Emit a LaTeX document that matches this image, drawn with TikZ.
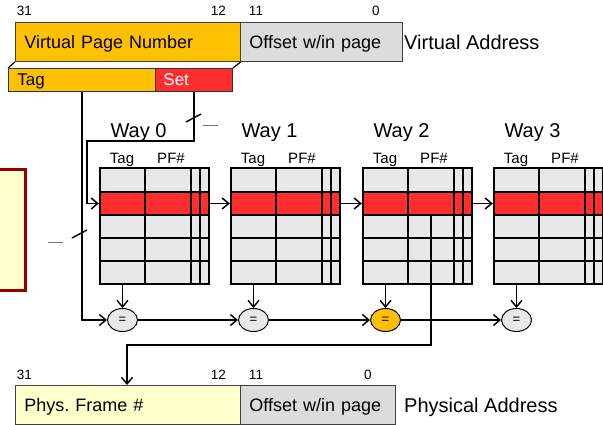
\documentclass[tikz,border=0pt]{standalone}
\usepackage{fontspec}
\setmainfont{Liberation Sans}
\usetikzlibrary{arrows.meta,shapes.geometric}
\definecolor{gold}{HTML}{FFC000}
\definecolor{setred}{HTML}{FF2D2D}
\definecolor{offgray}{HTML}{DCDCDC}
\definecolor{cellgray}{HTML}{E8E8E8}
\definecolor{paleyel}{HTML}{FFFFCC}
\definecolor{darkred}{HTML}{990000}
\frenchspacing
\begin{document}
\begin{tikzpicture}[x=1pt,y=-1pt,
  addr/.style={draw=black!75, line width=0.9pt, anchor=north west, minimum height=39pt,
    inner ysep=0pt, inner xsep=9pt, align=left, font=\fontsize{18}{18}\selectfont,
    text height=15pt, text depth=2pt},
  fieldbox/.style={draw=black!80, line width=0.9pt, anchor=north west, minimum height=23pt,
    inner ysep=0pt, align=left, font=\fontsize{17}{17}\selectfont,
    text height=14pt, text depth=3pt},
  lbl/.style={inner sep=0pt, anchor=base},
  bignum/.style={lbl, font=\fontsize{13.5}{13.5}\selectfont},
  caption/.style={inner sep=0pt, anchor=base west, font=\fontsize{20}{20}\selectfont},
  waybox/.style={draw=black, line width=2.4pt, fill=cellgray, minimum width=109pt,
    minimum height=116pt, inner sep=0pt},
  redrow/.style={draw=black, line width=2.4pt, fill=setred, minimum width=109pt,
    minimum height=23pt, inner sep=0pt},
  gridline/.style={draw=black, line width=2.4pt},
  conn/.style={draw=black, line width=1.5pt},
  tip/.style={-{Straight Barb[length=6.5pt,width=11pt,line width=1.5pt]}},
  cmp/.style={ellipse, draw=black, line width=1pt, minimum width=30pt, minimum height=23pt,
    inner sep=0pt, font=\fontsize{13}{13}\selectfont},
  tick/.style={draw=black, line width=1.4pt},
  busdash/.style={draw=black!55, line width=1pt}
]
\useasboundingbox (0,0) rectangle (603,424);

% side box (partly off the picture)
\node[draw=darkred, line width=3pt, fill=paleyel, minimum width=45.5pt, minimum height=121pt,
  inner sep=0pt] (side) at (2.75,230) {};

% virtual address
\node[addr, fill=gold, text width=207pt] (vpn) at (15,22) {Virtual Page Number};
\node[addr, fill=offgray, text width=144pt] (voff) at (240,22) {Offset w/in page};
\node[caption] (vcap) at (404,49) {Virtual Address};
\node[bignum] (v31) at (24.5,15.6) {31};
\node[bignum] (v12) at (218.5,15.6) {12};
\node[bignum] (v11) at (256,15.6) {11};
\node[bignum] (v0) at (376,15.6) {0};

% tag / set fields
\node[fieldbox, fill=gold, inner xsep=9pt, text width=129pt] (tag) at (8,68) {Tag};
\node[fieldbox, fill=setred, inner xsep=8pt, text width=61pt, text=white] (set) at (155,68) {Set};
\draw[line width=1.2pt] (vpn.south west) -- (tag.north west);
\draw[line width=1.2pt] (vpn.south east) -- (set.north east);

% ways
\foreach \i/\L/\cc in {0/100/cellgray, 1/231/cellgray, 2/363/gold, 3/494/cellgray} {
  \node[waybox] (w\i) at ({\L+54.5},226) {};
  \node[redrow] (r\i) at ({\L+54.5},203.5) {};
  \draw[gridline] (\L,238) -- ({\L+109},238);
  \draw[gridline] (\L,261) -- ({\L+109},261);
  \draw[gridline] ({\L+45},168) -- ({\L+45},284);
  \draw[gridline] ({\L+91},168) -- ({\L+91},284);
  \draw[gridline] ({\L+100},168) -- ({\L+100},284);
  \draw[gridline] (\L,168) rectangle ({\L+109},284);
  \node[lbl, font=\fontsize{20}{20}\selectfont] (wl\i) at ({\L+38.5},137) {Way \i};
  \node[lbl, font=\fontsize{15}{15}\selectfont] (th\i) at ({\L+22},163) {Tag};
  \node[lbl, font=\fontsize{15}{15}\selectfont] (ph\i) at ({\L+71},163) {PF\#};
  \node[cmp, fill=\cc] (c\i) at ({\L+22.5},320) {=};
  \draw[conn, tip] (w\i.south -| c\i) -- (c\i.north);
}

% way-to-way arrows
\draw[conn, tip] (r0.east) -- (r1.west);
\draw[conn, tip] (r1.east) -- (r2.west);
\draw[conn, tip] (r2.east) -- (r3.west);

% comparator chain
\draw[conn, tip] (tag.south) |- (c0.west);
\draw[conn, tip] (c0.east) -- (c1.west);
\draw[conn, tip] (c1.east) -- (c2.west);
\draw[conn, tip] (c2.east) -- (c3.west);

% set index line
\coordinate (s1) at (87,141);
\draw[conn, tip] (set.south) |- (s1) |- (r0.west);

% bus-width marks
\coordinate (k1a) at (186,122); \coordinate (k1b) at (201,114);
\coordinate (k2a) at (72,238);  \coordinate (k2b) at (87,230);
\coordinate (d1a) at (203,125); \coordinate (d1b) at (218,125);
\coordinate (d2a) at (48,242);  \coordinate (d2b) at (63,242);
\draw[tick] (k1a) -- (k1b);
\draw[tick] (k2a) -- (k2b);
\draw[busdash] (d1a) -- (d1b);
\draw[busdash] (d2a) -- (d2b);

% physical address
\node[addr, fill=paleyel, text width=207pt] (pfn) at (15,385) {Phys. Frame \#};
\node[addr, fill=offgray, text width=137pt] (poff) at (240,385) {Offset w/in page};
\node[caption] (pcap) at (404,412) {Physical Address};
\node[bignum] (p31) at (24.5,379.6) {31};
\node[bignum] (p12) at (218.5,379.6) {12};
\node[bignum] (p11) at (256,379.6) {11};
\node[bignum] (p0) at (368,379.6) {0};

% frame number out of way 2
\coordinate (o1) at (431,345);
\coordinate (o2) at (127,345);
\draw[conn, tip] (r2.south -| o1) -- (o1) -- (o2) -- (o2 |- pfn.north);
\end{tikzpicture}
\end{document}
